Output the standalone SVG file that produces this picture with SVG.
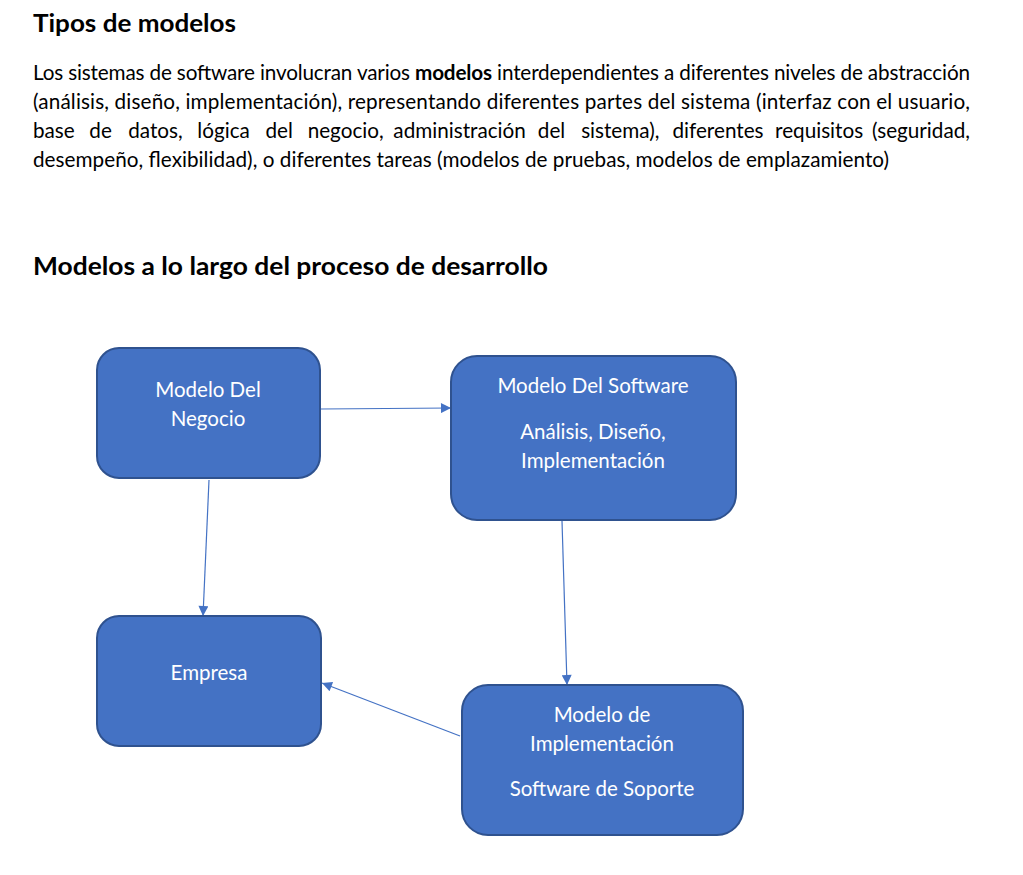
<svg xmlns="http://www.w3.org/2000/svg" width="1023" height="875" viewBox="0 0 1023 875">
<style>
.h{font-family:Lato,"Open Sans",sans-serif;font-weight:bold;font-size:24px;fill:#000}
.b{font-family:Lato,"Open Sans",sans-serif;font-size:20.7px;fill:#000}
.node rect{fill:#4472C4;stroke:#2F528F;stroke-width:2}
.node text{font-family:Lato,"Open Sans",sans-serif;font-size:20.5px;fill:#fff;text-anchor:middle}
.conn line{stroke:#4472C4;stroke-width:1.2}
</style>
<defs>
<marker id="arr" viewBox="0 0 10 10" refX="10" refY="5" markerWidth="11" markerHeight="10" markerUnits="userSpaceOnUse" orient="auto">
<path d="M0,0 L10,5 L0,10 z" fill="#4472C4"/>
</marker>
</defs>
<rect width="1023" height="875" fill="#fff"/>
<text class="h" x="33" y="32" textLength="203" lengthAdjust="spacingAndGlyphs">Tipos de modelos</text>
<text class="b" x="33" y="80" textLength="937" lengthAdjust="spacing">Los sistemas de software involucran varios <tspan font-weight="bold">modelos</tspan> interdependientes a diferentes niveles de abstracción</text>
<text class="b" x="33" y="109" textLength="937" lengthAdjust="spacing">(análisis, diseño, implementación), representando diferentes partes del sistema (interfaz con el usuario,</text>
<text class="b" y="138" text-anchor="middle"><tspan x="33" text-anchor="start">base</tspan><tspan x="100.6">de</tspan><tspan x="155.5">datos,</tspan><tspan x="223.6">lógica</tspan><tspan x="279.2">del</tspan><tspan x="345.7">negocio,</tspan><tspan x="459.6">administración</tspan><tspan x="551.5">del</tspan><tspan x="620.3">sistema),</tspan><tspan x="718">diferentes</tspan><tspan x="819.1">requisitos</tspan><tspan x="970" text-anchor="end">(seguridad,</tspan></text>
<text class="b" x="33" y="167" textLength="856" lengthAdjust="spacing">desempeño, flexibilidad), o diferentes tareas (modelos de pruebas, modelos de emplazamiento)</text>
<text class="h" x="33" y="275" textLength="515" lengthAdjust="spacingAndGlyphs">Modelos a lo largo del proceso de desarrollo</text>

<g id="connectors" class="conn">
<line x1="321" y1="409" x2="451" y2="408" marker-end="url(#arr)"/>
<line x1="209" y1="480" x2="203" y2="616" marker-end="url(#arr)"/>
<line x1="562" y1="521" x2="567" y2="685" marker-end="url(#arr)"/>
<line x1="460" y1="736" x2="322" y2="683" marker-end="url(#arr)"/>
</g>

<g id="node-negocio" class="node">
<rect x="97" y="348" width="223" height="130" rx="22"/>
<text x="208" y="397">Modelo Del</text>
<text x="208" y="426">Negocio</text>
</g>
<g id="node-software" class="node">
<rect x="451" y="356" width="285" height="164" rx="26"/>
<text x="593" y="393">Modelo Del Software</text>
<text x="593" y="439">Análisis, Diseño,</text>
<text x="593" y="468">Implementación</text>
</g>
<g id="node-empresa" class="node">
<rect x="97" y="616" width="224" height="130" rx="22"/>
<text x="209" y="680">Empresa</text>
</g>
<g id="node-implementacion" class="node">
<rect x="462" y="685" width="281" height="150" rx="26"/>
<text x="602" y="722">Modelo de</text>
<text x="602" y="751">Implementación</text>
<text x="602" y="796">Software de Soporte</text>
</g>
</svg>
